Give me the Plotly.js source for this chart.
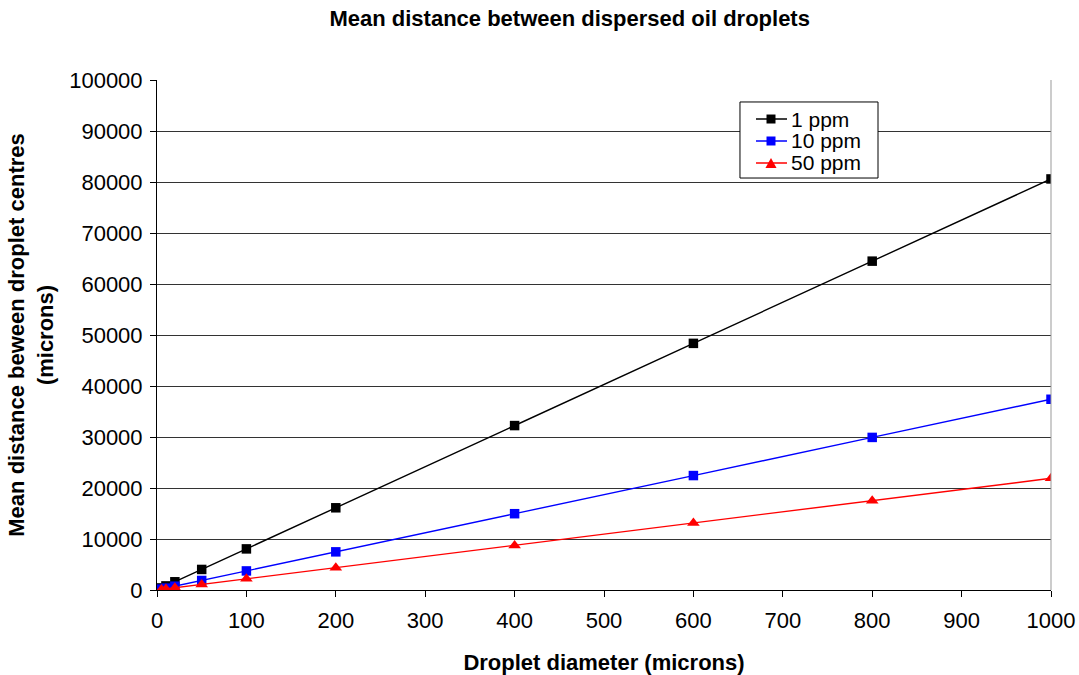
<!DOCTYPE html>
<html>
<head>
<meta charset="utf-8">
<script src="https://cdn.plot.ly/plotly-3.0.1.min.js"></script>
<style>html,body{margin:0;padding:0;background:#fff;}#chart{width:1079px;height:675px;}</style>
</head>
<body>
<div id="chart"></div>
<script>
const diameters = [5, 10, 20, 50, 100, 200, 400, 600, 800, 1000];
const ppm1 = [403, 806, 1612, 4030, 8060, 16120, 32240, 48360, 64480, 80600];
const ppm10 = [187, 374, 748, 1870, 3740, 7480, 14960, 22440, 29920, 37400];
const ppm50 = [109, 219, 438, 1095, 2190, 4380, 8750, 13130, 17500, 21900];
const seriesNames = ['1 ppm', '10 ppm', '50 ppm'];
const seriesColors = ['#000000', '#0000ff', '#ff0000'];
const seriesSymbols = ['square', 'square', 'triangle-up'];

const seriesData = [ppm1, ppm10, ppm50];
const traces = seriesData.map((ys, i) => ({
  x: diameters, y: ys, name: seriesNames[i], mode: 'lines+markers', showlegend: false,
  line: {color: seriesColors[i], width: 1.4},
  marker: {symbol: seriesSymbols[i], size: seriesSymbols[i] === 'square' ? 9.5 : 11, color: seriesColors[i]}
}));

// Custom legend (Excel-style compact box), in paper coordinates
const legendRows = [0.9235, 0.8804, 0.8373];
const shapes = [
  {type: 'line', xref: 'paper', yref: 'paper', x0: 1, x1: 1, y0: 0, y1: 1, line: {color: '#999999', width: 1}},
  {type: 'rect', xref: 'paper', yref: 'paper', x0: 0.6521, x1: 0.8065, y0: 0.8078, y1: 0.9569,
   fillcolor: '#ffffff', line: {color: '#000000', width: 1}, layer: 'above'}
];
const annotations = [];
const mx = 0.6868, hx = 0.00503, hy = 0.00882;
legendRows.forEach((ly, i) => {
  shapes.push({type: 'line', xref: 'paper', yref: 'paper', x0: 0.670, x1: 0.7047, y0: ly, y1: ly,
    line: {color: seriesColors[i], width: 1.4}, layer: 'above'});
  if (seriesSymbols[i] === 'square') {
    shapes.push({type: 'rect', xref: 'paper', yref: 'paper', x0: mx - hx, x1: mx + hx, y0: ly - hy, y1: ly + hy,
      fillcolor: seriesColors[i], line: {width: 0}, layer: 'above'});
  } else {
    const bx = 0.0062, by = 0.0098;
    shapes.push({type: 'path', xref: 'paper', yref: 'paper',
      path: `M ${mx - bx} ${ly - by} L ${mx + bx} ${ly - by} L ${mx} ${ly + by} Z`,
      fillcolor: seriesColors[i], line: {width: 0}, layer: 'above'});
  }
  annotations.push({xref: 'paper', yref: 'paper', x: 0.7065, y: ly, xanchor: 'left', yanchor: 'middle',
    text: seriesNames[i], showarrow: false, font: {size: 21, color: '#000000'}});
});

const layout = {
  width: 1079, height: 675,
  paper_bgcolor: '#ffffff', plot_bgcolor: '#ffffff',
  font: {family: 'Liberation Sans, Arial, sans-serif', color: '#000000'},
  margin: {l: 157, r: 28, t: 80, b: 85},
  title: {text: '<b>Mean distance between dispersed oil droplets</b>', font: {size: 22}, x: 0.528, xanchor: 'center', y: 0.985, yanchor: 'top'},
  xaxis: {
    range: [0, 1000], dtick: 100, tick0: 0,
    showgrid: false, zeroline: false,
    showline: true, linecolor: '#000000', linewidth: 1,
    ticks: 'outside', ticklen: 6, tickcolor: '#000000',
    tickfont: {size: 22}, tickformat: 'd', ticklabelstandoff: 5,
    title: {text: '<b>Droplet diameter (microns)</b>', font: {size: 22}, standoff: 22},
    automargin: false
  },
  yaxis: {
    range: [0, 100000], dtick: 10000, tick0: 0,
    showgrid: true, gridcolor: '#333333', gridwidth: 1,
    zeroline: false,
    showline: true, linecolor: '#000000', linewidth: 1,
    ticks: 'outside', ticklen: 6, tickcolor: '#000000',
    tickfont: {size: 22}, tickformat: 'd', separatethousands: false, ticklabelstandoff: 3,
    title: {text: '<b>Mean distance beween droplet centres<br>(microns)</b>', font: {size: 22}, standoff: 9},
    automargin: false
  },
  shapes: shapes,
  annotations: annotations,
  showlegend: false
};

Plotly.newPlot('chart', traces, layout, {displayModeBar: false, staticPlot: true});
</script>
</body>
</html>
